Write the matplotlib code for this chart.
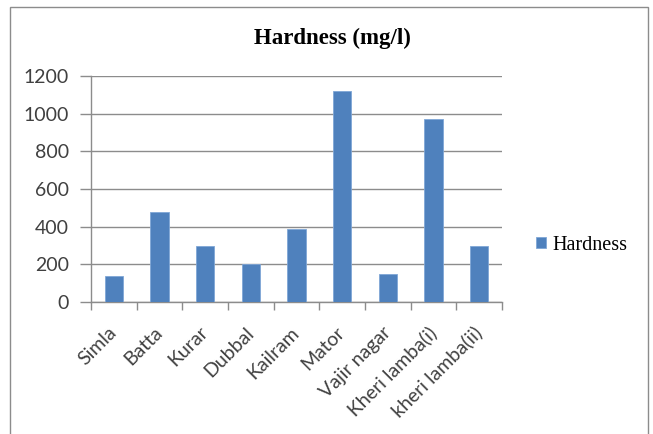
import matplotlib
matplotlib.use("Agg")
import matplotlib.pyplot as plt
import numpy as np
from matplotlib.patches import Rectangle

categories = ["Simla", "Batta", "Kurar", "Dubbal", "Kailram", "Mator",
              "Vajir nagar", "Kheri lamba(i)", "kheri lamba(ii)"]
hardness = [140, 480, 300, 200, 390, 1120, 150, 970, 300]
yticks = [0, 200, 400, 600, 800, 1000, 1200]
series_name = "Hardness"
title = "Hardness (mg/l)"

W, H = 653, 434
fig = plt.figure(figsize=(W / 100, H / 100), dpi=100)
fig.patch.set_facecolor("white")

# outer chart border
fig.add_artist(Rectangle((10 / W, -0.05), (648 - 10) / W, (1 - 7.5 / H) + 0.05,
                         transform=fig.transFigure, fill=False,
                         edgecolor="#8c8c8c", linewidth=1.0))

ax = fig.add_axes([91 / W, 1 - 302 / H, (502 - 91) / W, (302 - 76) / H])
x = np.arange(len(categories)) + 0.5
ax.bar(x, hardness, width=0.4, color="#4F81BD", edgecolor="#7fa6d6",
       linewidth=0.6, label=series_name, zorder=3)

ax.set_xlim(0, len(categories))
ax.set_ylim(0, 1200)
ax.set_yticks(yticks)
ax.set_yticklabels([str(v) for v in yticks], fontfamily="Lato",
                   fontsize=14, color="#404040")
ax.yaxis.grid(True, color="#8c8c8c", linewidth=1.0, zorder=0)
ax.tick_params(axis="y", length=8, width=1.0, color="#8c8c8c", pad=8)

ax.set_xticks(np.arange(len(categories) + 1))
ax.set_xticklabels([])
ax.set_xticks(x, minor=True)
ax.set_xticklabels(categories, minor=True, rotation=45, ha="right",
                   va="center", rotation_mode="anchor", fontfamily="Lato",
                   fontsize=14, color="#404040")
ax.tick_params(axis="x", which="major", length=6, width=1.0, color="#8c8c8c")
ax.tick_params(axis="x", which="minor", length=0, pad=20)

for s in ["top", "right"]:
    ax.spines[s].set_visible(False)
for s in ["left", "bottom"]:
    ax.spines[s].set_color("#8c8c8c")
    ax.spines[s].set_linewidth(1.0)

fig.text(332 / W, 1 - 38 / H, title, ha="center", va="center",
         fontfamily="Liberation Serif", fontweight="bold", fontsize=16.5)

leg = fig.legend(loc="center left", bbox_to_anchor=(536 / W, 1 - 245 / H),
                 frameon=False, borderpad=0, borderaxespad=0,
                 handlelength=0.5, handleheight=0.5, handletextpad=0.3,
                 prop={"family": "Liberation Serif", "size": 14.5})

fig.savefig("out.png", dpi=100)
